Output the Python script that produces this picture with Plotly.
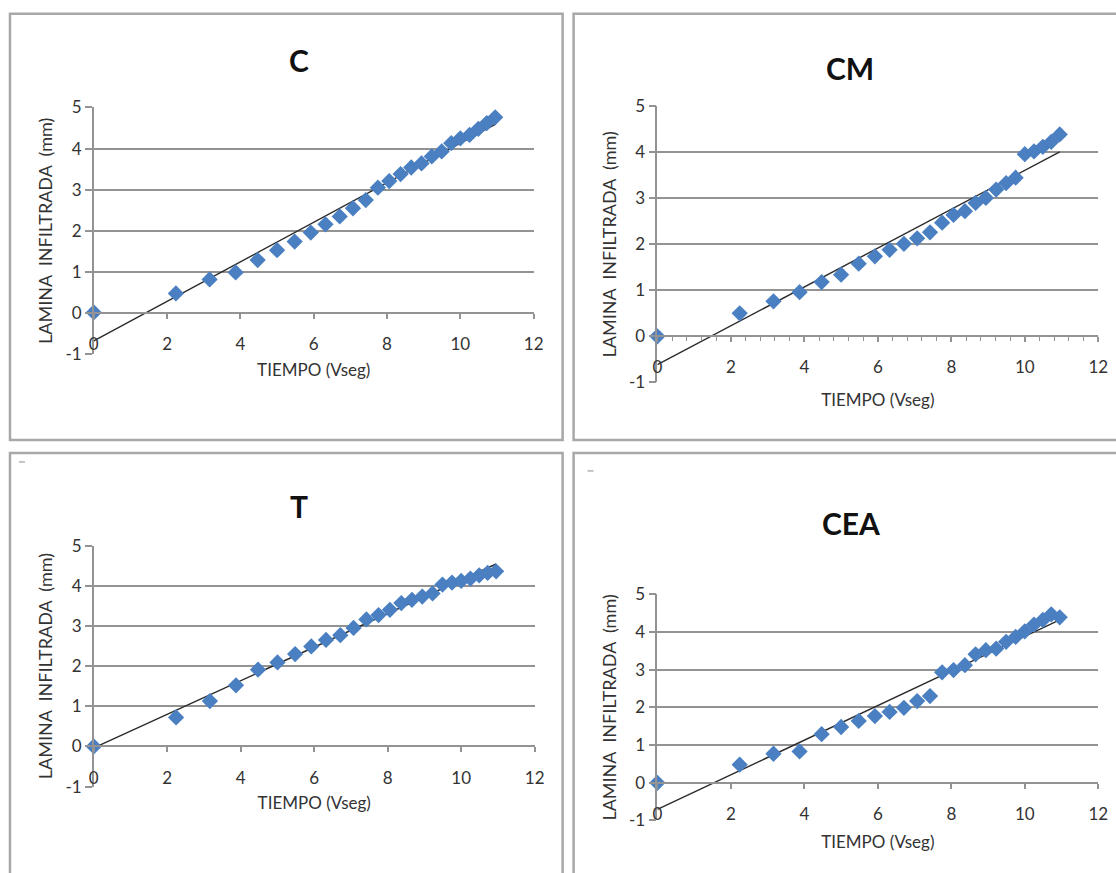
import numpy as np
import plotly.graph_objects as go

# ---------------- data ----------------
tiempo_raiz = [0.0, 2.24, 3.16, 3.87, 4.47, 5.0, 5.48, 5.92, 6.32, 6.71, 7.07, 7.42, 7.75,
               8.06, 8.37, 8.66, 8.94, 9.22, 9.49, 9.75, 10.0, 10.25, 10.49, 10.72, 10.95]

lamina_C = [0.02, 0.48, 0.82, 0.99, 1.29, 1.53, 1.74, 1.96, 2.16, 2.35, 2.55, 2.75, 3.05,
            3.21, 3.38, 3.54, 3.64, 3.81, 3.93, 4.13, 4.25, 4.33, 4.48, 4.62, 4.76]
lamina_CM = [0.0, 0.50, 0.76, 0.96, 1.18, 1.34, 1.58, 1.74, 1.88, 2.01, 2.13, 2.26, 2.47,
             2.64, 2.72, 2.90, 3.01, 3.19, 3.33, 3.45, 3.96, 4.02, 4.12, 4.23, 4.39]
lamina_T = [0.0, 0.72, 1.13, 1.52, 1.91, 2.09, 2.30, 2.49, 2.65, 2.77, 2.95, 3.16, 3.27,
            3.40, 3.57, 3.65, 3.73, 3.81, 4.03, 4.08, 4.12, 4.18, 4.26, 4.32, 4.36]
lamina_CEA = [0.0, 0.48, 0.77, 0.83, 1.29, 1.48, 1.64, 1.77, 1.88, 1.99, 2.17, 2.30, 2.93,
              2.99, 3.12, 3.41, 3.52, 3.56, 3.74, 3.87, 4.02, 4.20, 4.32, 4.47, 4.39]

panel_titles = ["C", "CM", "T", "CEA"]
x_ticks = [0, 2, 4, 6, 8, 10, 12]
x_tick_labels = ["0", "2", "4", "6", "8", "10", "12"]
y_ticks = [-1, 0, 1, 2, 3, 4, 5]
y_tick_labels = ["-1", "0", "1", "2", "3", "4", "5"]
x_title = "TIEMPO (Vseg)"
y_title = "LAMINA\u00a0\u00a0INFILTRADA\u00a0\u00a0(mm)"

# ---------------- layout ----------------
W, H = 1116, 873
# empirical correction of the photographed placement
SX, CX = 0.989, 3.0
SY, CY = 0.980, 8.2
FONT = "Lato, 'Open Sans', sans-serif"
MARK = "#4a7fc1"
GRID = "#939393"
TXT = "#333333"

# plot area target boxes: (x at 0, x at 12, y at 5, y at -1)
panels = [
    dict(series=lamina_C,   box=(92, 533, 105, 353), title_xy=(298, 57), minor=False, xstand=10),
    dict(series=lamina_CM,  box=(657, 1099, 104, 381), title_xy=(850, 65), minor=True, xstand=17),
    dict(series=lamina_T,   box=(92, 534, 545, 787), title_xy=(298, 505), minor=False, xstand=10),
    dict(series=lamina_CEA, box=(657, 1099, 594, 821), title_xy=(851, 522), minor=False, xstand=12),
]

def px(x):
    return ((x - CX) / SX) / W

def py(y):
    return 1 - ((y - CY) / SY) / H

fig = go.Figure()

for i, p in enumerate(panels):
    n = i + 1
    xs = "x" if n == 1 else f"x{n}"
    ys = "y" if n == 1 else f"y{n}"
    xl, xr, yt, yb = p["box"]
    y0_pix = yb - (yb - yt) / 6.0  # row of value 0

    xv = np.array(tiempo_raiz)
    yv = np.array(p["series"])
    slope, intercept = np.polyfit(xv, yv, 1)
    xline = [xv.min(), xv.max()]
    yline = [intercept + slope * xv.min(), intercept + slope * xv.max()]

    fig.add_trace(go.Scatter(x=xline, y=yline, mode="lines", xaxis=xs, yaxis=ys,
                             line=dict(color="#2b2b2b", width=1.4), showlegend=False,
                             cliponaxis=False))
    fig.add_trace(go.Scatter(x=tiempo_raiz, y=p["series"], mode="markers", xaxis=xs, yaxis=ys,
                             marker=dict(symbol="diamond", size=12.5, color=MARK),
                             showlegend=False, cliponaxis=False))

    xa = dict(domain=[px(xl), min(px(xr), 1.0)], range=[0, 12], tickvals=x_ticks, ticktext=x_tick_labels,
              showgrid=False, zeroline=False, showline=True, linecolor=GRID, linewidth=1.5,
              ticks="outside", ticklen=5, tickcolor=GRID, tickwidth=1.5,
              anchor="free", position=py(y0_pix),
              ticklabelstandoff=11,
              tickfont=dict(family=FONT, size=17, color=TXT),
              title=dict(text=x_title, font=dict(family=FONT, size=17, color=TXT), standoff=p["xstand"]))
    if p["minor"]:
        xa["minor"] = dict(dtick=0.4, ticks="outside", ticklen=4, tickcolor=GRID, tickwidth=1)
    ya = dict(domain=[max(py(yb), 0.0), py(yt)], range=[-1, 5], tickvals=y_ticks, ticktext=y_tick_labels,
              showgrid=True, gridcolor=GRID, gridwidth=1.5, zeroline=False,
              showline=True, linecolor=GRID, linewidth=1.5,
              ticks="outside", ticklen=7, tickcolor=GRID, tickwidth=1.5,
              anchor=xs, tickfont=dict(family=FONT, size=17, color=TXT),
              title=dict(text=y_title, font=dict(family=FONT, size=18, color=TXT), standoff=8))
    fig.update_layout(**{("xaxis" if n == 1 else f"xaxis{n}"): xa,
                         ("yaxis" if n == 1 else f"yaxis{n}"): ya})

    tx, ty = p["title_xy"]
    fig.add_annotation(x=px(tx), y=py(ty), xref="paper", yref="paper", text=f"<b>{panel_titles[i]}</b>",
                       showarrow=False, font=dict(family=FONT, size=30, color="#111111"),
                       xanchor="center", yanchor="middle")

# panel frames
frames = [(8, 562, 11, 439), (573, 1160, 11, 439), (8, 562, 452, 920), (573, 1160, 452, 920)]
for (x0, x1, y0, y1) in frames:
    fig.add_shape(type="rect", xref="paper", yref="paper",
                  x0=px(x0), x1=px(x1), y0=py(y1), y1=py(y0),
                  line=dict(color="#a8a8a8", width=2.5), layer="below")

# small marks near the lower frames' corners
for (mx, my) in [(20, 461), (590, 470)]:
    fig.add_shape(type="line", xref="paper", yref="paper",
                  x0=px(mx - 3), x1=px(mx + 3), y0=py(my), y1=py(my),
                  line=dict(color="#c4c4c4", width=2), layer="below")

fig.update_layout(width=W, height=H, margin=dict(l=0, r=0, t=0, b=0),
                  paper_bgcolor="white", plot_bgcolor="white", showlegend=False)

fig.write_html("out.html")
